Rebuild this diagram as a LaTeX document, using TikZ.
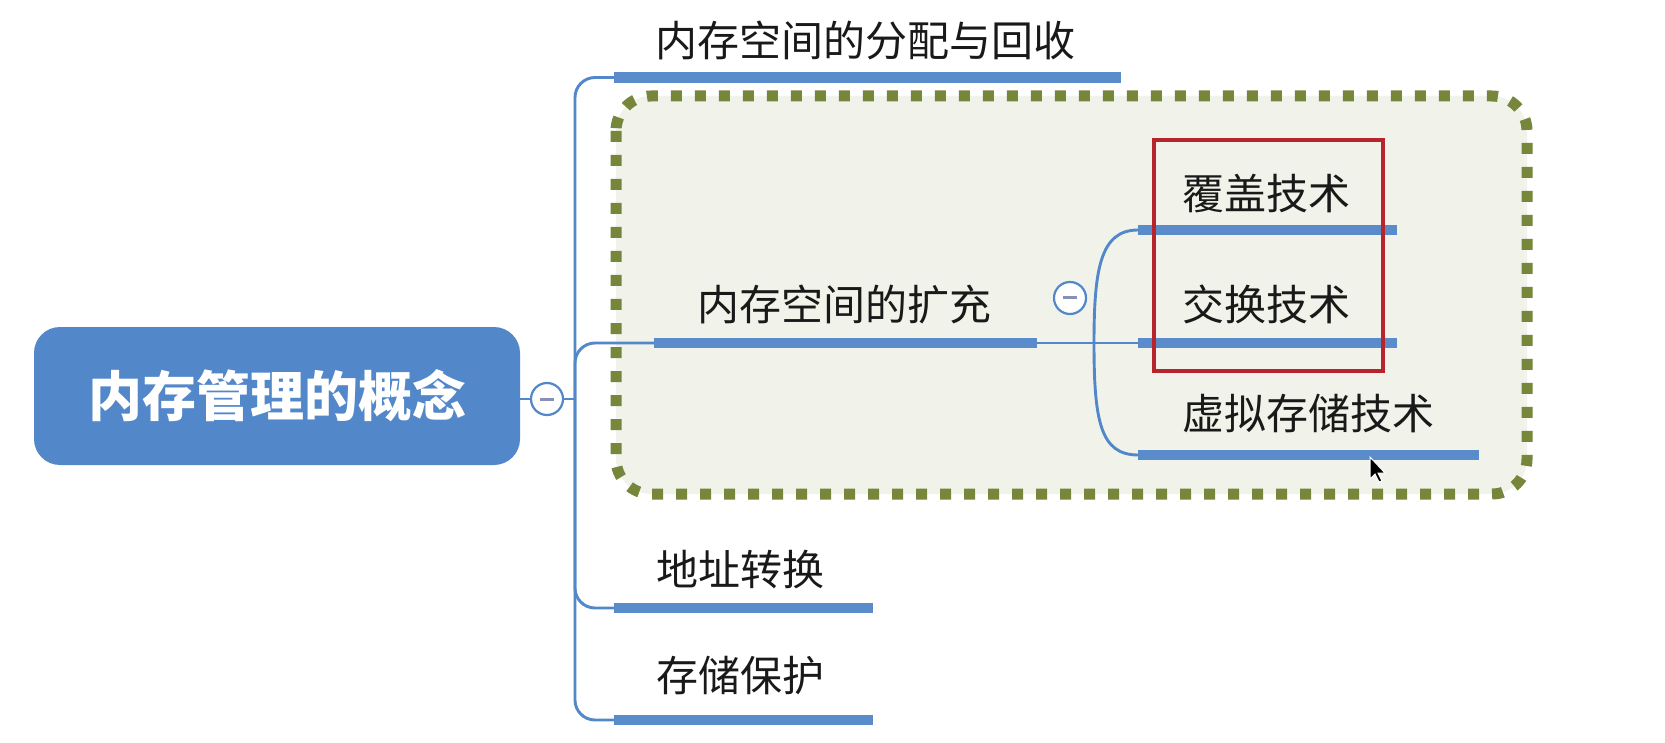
\documentclass[tikz,border=0pt]{standalone}
\usepackage{fontspec}
\newfontfamily\cjk{Noto Sans CJK SC}
\definecolor{mblue}{HTML}{5287C9}
\definecolor{lblue}{HTML}{5A8BCB}
\definecolor{olivec}{HTML}{76863A}
\definecolor{pale}{HTML}{F1F3EA}
\definecolor{redbox}{HTML}{B5252B}
\definecolor{minusc}{HTML}{8A8FB8}
\begin{document}
\begin{tikzpicture}[x=1pt,y=-1pt,
 conn/.style={draw=mblue, line width=2.9pt},
 bar/.style={fill=lblue, inner sep=0, minimum height=10.5pt, anchor=west},
 lbl/.style={font=\cjk\fontsize{42}{48}\selectfont, text=black!90, inner sep=0},
 collapse/.style={circle, draw=mblue, fill=white, line width=2.2pt, minimum size=32pt, inner sep=0,
   path picture={\draw[minusc, line width=3pt] ([xshift=-7pt]path picture bounding box.center) -- ([xshift=7pt]path picture bounding box.center);}},
 rootbox/.style={fill=mblue, rounded corners=26pt, minimum width=486pt, minimum height=138pt, text=white, font=\cjk\bfseries\fontsize{54}{64}\selectfont},
 dotted box/.style={draw=olivec, line width=11pt, dash pattern=on 11pt off 13pt, fill=pale, rounded corners=35pt},
 red frame/.style={draw=redbox, line width=3.5pt}
]
\useasboundingbox (0,0) rectangle (1665,743);
\fill[white] (0,0) rectangle (1665,743);
% dotted highlight box
\path[dotted box] (616,96) rectangle (1527,494);
% root
\node[rootbox] (root) at (277,396) {内存管理的概念};
\node[collapse] (c1) at (547,399) {};
\coordinate (tk) at (575,399);
\coordinate (sj) at (1094,343);
% bars
\node[bar, minimum width=507pt] (b1) at (614,77.5) {};
\node[bar, minimum width=383pt] (b2) at (654,343) {};
\node[bar, minimum width=259pt] (b3) at (614,608) {};
\node[bar, minimum width=259pt] (b4) at (614,720) {};
\node[bar, minimum width=259pt] (s1) at (1138,230) {};
\node[bar, minimum width=259pt] (s2) at (1138,343) {};
\node[bar, minimum width=341pt] (s3) at (1138,455) {};
% labels
\node[lbl] (t1) at (865,40) {内存空间的分配与回收};
\node[lbl] (t2) at (844,305) {内存空间的扩充};
\node[lbl] (t3) at (740,570) {地址转换};
\node[lbl] (t4) at (740,676) {存储保护};
\node[lbl] (u1) at (1266,194) {覆盖技术};
\node[lbl] (u2) at (1266,304) {交换技术};
\node[lbl] (u3) at (1308,414) {虚拟存储技术};
% connectors
\draw[conn] (root.east |- c1.west) -- (c1.west);
\draw[conn] (c1.east) -- (tk);
\draw[conn, rounded corners=20pt] (b1.west) -| (tk) |- (b4.west);
\draw[conn, rounded corners=20pt] (tk) |- (b2.west);
\draw[conn, rounded corners=20pt] (tk) |- (b3.west);
\draw[conn] (b2.east) -- (s2.west);
\draw[conn] (sj) .. controls (1094,270) and (1100,230) .. (s1.west);
\draw[conn] (sj) .. controls (1094,420) and (1100,455) .. (s3.west);
\node[collapse] (c2) at (1070,298) {};
% red frame
\draw[red frame] (1154,140) rectangle (1383,371);
% mouse pointer
\filldraw[fill=black, draw=white, line width=1pt, shift={(1370,457)}] (0,0) -- (0,22) -- (5,17) -- (9,25) -- (12,24) -- (8,16) -- (15,16) -- cycle;
\end{tikzpicture}
\end{document}
